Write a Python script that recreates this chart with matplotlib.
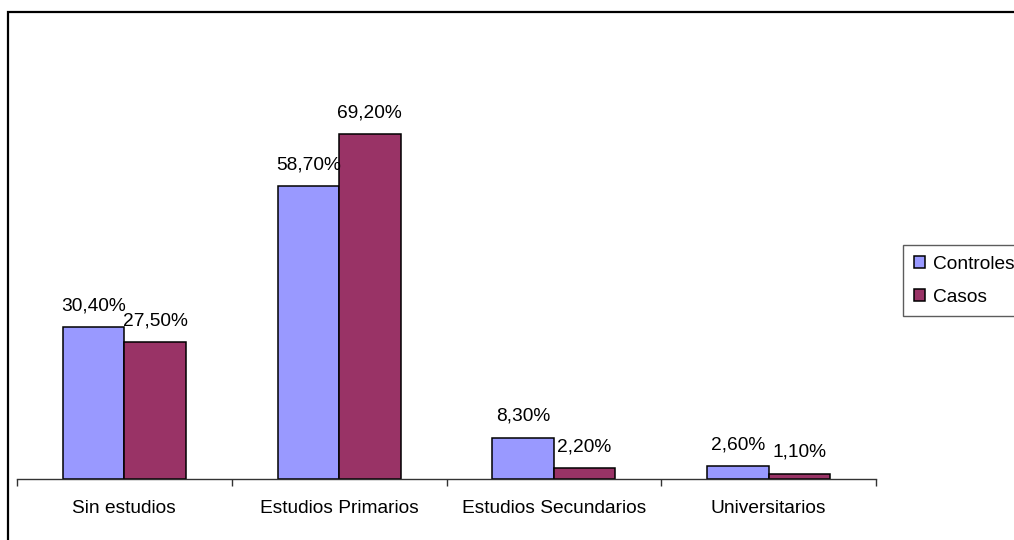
import matplotlib.pyplot as plt
import matplotlib.patches as patches
import numpy as np

plt.rcParams['font.family'] = ['Liberation Sans', 'DejaVu Sans']

# Data
categorias = ['Sin estudios', 'Estudios Primarios', 'Estudios Secundarios', 'Universitarios']
controles = [30.4, 58.7, 8.3, 2.6]
casos = [27.5, 69.2, 2.2, 1.1]
series_names = ['Controles', 'Casos']
series_colors = ['#9999FF', '#993366']


def fmt(v):
    return ('%.2f%%' % v).replace('.', ',')


fig = plt.figure(figsize=(10.14, 5.40), dpi=100)
ax = fig.add_axes([17 / 1014, 61 / 540, 859 / 1014, 399 / 540])

x = np.arange(len(categorias))
w = 0.286
bars1 = ax.bar(x - w / 2, controles, w, color=series_colors[0], edgecolor='black', linewidth=1.1, label=series_names[0])
bars2 = ax.bar(x + w / 2, casos, w, color=series_colors[1], edgecolor='black', linewidth=1.1, label=series_names[1])

# Value labels above bars
for bars, vals in [(bars1, controles), (bars2, casos)]:
    for b, v in zip(bars, vals):
        ax.annotate(fmt(v), (b.get_x() + b.get_width() / 2, v), xytext=(0, 12), textcoords='offset points',
                    ha='center', va='baseline', fontsize=13.8)

ax.set_xlim(-0.5, len(categorias) - 0.5)
ax.set_ylim(0, 80)

for s in ['top', 'right', 'left']:
    ax.spines[s].set_visible(False)
ax.spines['bottom'].set_color('#333333')
ax.spines['bottom'].set_linewidth(1.0)
ax.set_yticks([])

ax.set_xticks(x)
ax.set_xticklabels(categorias, fontsize=13.8)
ax.tick_params(axis='x', which='major', length=0, pad=15)
ax.set_xticks(np.arange(-0.5, len(categorias), 1.0), minor=True)
ax.tick_params(axis='x', which='minor', length=5, width=1.0, color='#333333')

# Legend
leg = fig.legend(loc='upper left', bbox_to_anchor=(903 / 1014, 1 - 245 / 540), fontsize=13.8,
                 frameon=True, fancybox=False, edgecolor='#333333', handlelength=0.6, handleheight=0.6,
                 handletextpad=0.4, borderpad=0.55, labelspacing=0.85, borderaxespad=0)
leg.get_frame().set_linewidth(1.0)

# Chart area border (cropped at right and bottom)
border = patches.Rectangle((8 / 1014, -0.1), 1.2, 1 - 12 / 540 + 0.1, transform=fig.transFigure,
                           fill=False, edgecolor='black', linewidth=1.6, clip_on=False)
fig.patches.append(border)

fig.savefig('out.png', dpi=100)
